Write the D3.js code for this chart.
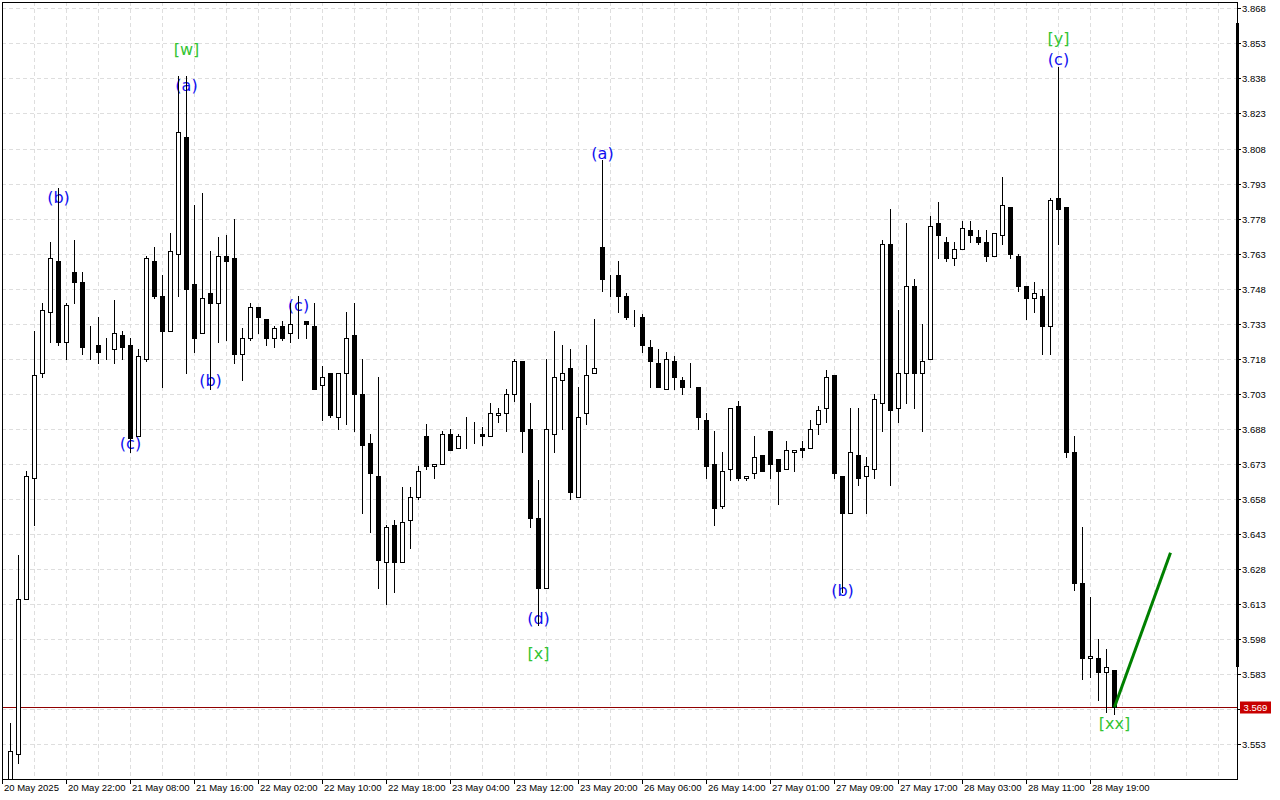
<!DOCTYPE html>
<html>
<head>
<meta charset="utf-8">
<script src="https://cdnjs.cloudflare.com/ajax/libs/d3/7.8.5/d3.min.js"></script>
<style>
  body { margin: 0; background: #fff; }
  svg { display: block; }
</style>
</head>
<body>
<svg id="chart" width="1280" height="800"></svg>
<script>
// hourly bars, first visible bar has index 1
const firstBar = 1;
const opens = [3.536,3.549,3.615,3.667,3.712,3.738,3.760,3.725,3.755,3.751,3.723,3.724,3.721,3.722,3.728,3.724,3.685,3.718,3.760,3.745,
  3.730,3.763,3.813,3.750,3.729,3.746,3.742,3.762,3.761,3.720,3.727,3.740,3.735,3.727,3.732,3.729,3.734,3.734,3.732,3.707,
  3.712,3.693,3.712,3.728,3.703,3.682,3.668,3.631,3.647,3.631,3.649,3.659,3.685,3.672,3.673,3.686,3.680,3.686,3.685,3.686,
  3.685,3.694,3.695,3.703,3.717,3.688,3.650,3.620,3.686,3.709,3.714,3.659,3.695,3.712,3.766,3.753,3.754,3.745,3.735,3.736,
  3.723,3.716,3.705,3.717,3.709,3.707,3.706,3.692,3.673,3.655,3.671,3.698,3.667,3.669,3.677,3.687,3.675,3.671,3.678,3.680,
  3.680,3.690,3.697,3.711,3.668,3.652,3.677,3.668,3.671,3.699,3.767,3.697,3.712,3.749,3.712,3.718,3.776,3.768,3.761,3.765,
  3.773,3.770,3.768,3.762,3.771,3.783,3.762,3.749,3.744,3.745,3.732,3.787,3.783,3.678,3.622,3.590,3.590,3.584,3.585];
const highs = [3.562,3.634,3.670,3.730,3.742,3.768,3.791,3.742,3.769,3.755,3.732,3.736,3.727,3.743,3.730,3.727,3.722,3.762,3.766,3.754,
  3.772,3.839,3.839,3.784,3.789,3.764,3.770,3.771,3.778,3.731,3.742,3.740,3.735,3.732,3.734,3.742,3.745,3.734,3.742,3.715,
  3.712,3.712,3.738,3.742,3.718,3.686,3.710,3.647,3.649,3.663,3.663,3.672,3.690,3.673,3.687,3.688,3.686,3.693,3.691,3.689,
  3.699,3.697,3.705,3.718,3.717,3.699,3.666,3.718,3.730,3.724,3.722,3.706,3.724,3.735,3.803,3.754,3.760,3.746,3.739,3.737,
  3.726,3.722,3.721,3.719,3.710,3.716,3.706,3.695,3.687,3.678,3.697,3.700,3.668,3.685,3.677,3.687,3.675,3.683,3.679,3.683,
  3.692,3.698,3.713,3.711,3.668,3.697,3.697,3.676,3.703,3.769,3.782,3.739,3.776,3.752,3.733,3.779,3.785,3.770,3.768,3.777,
  3.777,3.773,3.773,3.772,3.796,3.783,3.763,3.749,3.751,3.748,3.787,3.843,3.783,3.685,3.646,3.616,3.598,3.594,3.585];
const lows = [3.530,3.545,3.615,3.647,3.710,3.725,3.724,3.718,3.742,3.720,3.718,3.716,3.718,3.716,3.718,3.678,3.685,3.717,3.744,3.706,
  3.730,3.745,3.712,3.721,3.729,3.705,3.725,3.726,3.716,3.709,3.726,3.729,3.724,3.723,3.726,3.725,3.727,3.727,3.705,3.692,
  3.693,3.688,3.690,3.687,3.652,3.644,3.620,3.613,3.618,3.631,3.637,3.658,3.671,3.667,3.673,3.679,3.680,3.680,3.682,3.681,
  3.685,3.691,3.687,3.700,3.678,3.646,3.604,3.620,3.678,3.688,3.658,3.659,3.690,3.712,3.747,3.745,3.738,3.735,3.732,3.721,
  3.706,3.706,3.705,3.705,3.703,3.706,3.688,3.667,3.647,3.654,3.666,3.666,3.666,3.667,3.670,3.667,3.656,3.671,3.670,3.676,
  3.680,3.686,3.691,3.667,3.618,3.652,3.664,3.652,3.667,3.687,3.664,3.691,3.699,3.697,3.687,3.718,3.761,3.760,3.758,3.765,
  3.768,3.767,3.760,3.762,3.767,3.761,3.747,3.735,3.738,3.720,3.720,3.767,3.676,3.619,3.581,3.582,3.572,3.567,3.566];
const closes = [3.550,3.615,3.668,3.711,3.739,3.761,3.725,3.741,3.751,3.723,3.723,3.721,3.721,3.729,3.723,3.684,3.719,3.761,3.745,3.730,
  3.764,3.815,3.748,3.727,3.744,3.742,3.762,3.760,3.720,3.727,3.740,3.736,3.727,3.731,3.727,3.733,3.734,3.733,3.705,3.710,
  3.694,3.712,3.727,3.703,3.681,3.669,3.632,3.646,3.631,3.648,3.659,3.670,3.672,3.673,3.686,3.679,3.685,3.686,3.685,3.685,
  3.695,3.695,3.703,3.717,3.687,3.650,3.620,3.688,3.710,3.712,3.661,3.693,3.711,3.714,3.752,3.753,3.745,3.736,3.735,3.724,
  3.717,3.706,3.718,3.710,3.706,3.707,3.693,3.672,3.654,3.670,3.697,3.667,3.668,3.676,3.670,3.673,3.670,3.679,3.679,3.679,
  3.688,3.696,3.710,3.669,3.652,3.678,3.667,3.672,3.701,3.767,3.696,3.712,3.749,3.712,3.717,3.775,3.771,3.761,3.765,3.774,
  3.771,3.768,3.762,3.772,3.784,3.763,3.749,3.744,3.746,3.732,3.786,3.782,3.678,3.622,3.590,3.591,3.584,3.586,3.569];

// axis labels
const priceTicks = [3.553,3.568,3.583,3.598,3.613,3.628,3.643,3.658,3.673,3.688,3.703,3.718,3.733,3.748,3.763,3.778,3.793,3.808,3.823,3.838,3.853,3.868];
const timeLabels = ['20 May 2025','20 May 22:00','21 May 08:00','21 May 16:00','22 May 02:00','22 May 10:00','22 May 18:00','23 May 04:00',
  '23 May 12:00','23 May 20:00','26 May 06:00','26 May 14:00','27 May 01:00','27 May 09:00','27 May 17:00','28 May 03:00','28 May 11:00','28 May 19:00'];
const timeLabelStep = 8;   // bars between time labels
const gridStep = 4;        // bars between vertical grid lines

const lastPrice = 3.569;
const rangeMarker = [3.586, 3.8615];

// wave marks: text, bar, price, degree
const waveText = ['[w]', '(a)', '(b)', '(c)', '(b)', '(c)', '(d)', '[x]', '(a)', '(b)', '[y]', '(c)', '[xx]'];
const waveBar = [23, 23, 7, 16, 26, 37, 67, 67, 75, 105, 132, 132, 139];
const wavePrice = [3.8505, 3.835, 3.787, 3.682, 3.709, 3.741, 3.607, 3.592, 3.806, 3.619, 3.855, 3.846, 3.562];
const waveMajor = [true, false, false, false, false, false, false, true, false, false, true, false, true];

// projected move
const forecastBar = [139, 146];
const forecastPrice = [3.569, 3.635];

const pLeft = 2, pRight = 1237, pTop = 2, pBottom = 779;

const svg = d3.select('#chart');
const x = d3.scaleLinear().domain([0, (pRight - pLeft) / 8]).range([pLeft, pRight]);
const y = d3.scaleLinear().domain([3.538, 3.868]).range([779.4, 8.3]);
const px = v => Math.round(x(v));
const py = v => Math.round(y(v));

const bars = opens.map((o, i) => ({ k: firstBar + i, o, h: highs[i], l: lows[i], c: closes[i] }));

svg.append('defs').append('clipPath').attr('id', 'plot')
  .append('rect').attr('x', pLeft).attr('y', pTop).attr('width', pRight - pLeft).attr('height', pBottom - pTop);

// grid
const grid = svg.append('g').attr('stroke', '#dedede').attr('stroke-dasharray', '4,3').attr('shape-rendering', 'crispEdges');
grid.selectAll('line.v')
  .data(d3.range(gridStep, (pRight - pLeft) / 8, gridStep))
  .join('line')
  .attr('class', 'v')
  .attr('x1', d => px(d) + 0.5).attr('x2', d => px(d) + 0.5)
  .attr('y1', pTop).attr('y2', pBottom);
grid.selectAll('line.h')
  .data(priceTicks)
  .join('line')
  .attr('class', 'h')
  .attr('x1', pLeft).attr('x2', pRight)
  .attr('y1', d => py(d) + 0.5).attr('y2', d => py(d) + 0.5);

// wave labels sit behind the candles
svg.append('g')
  .attr('font-family', 'DejaVu Sans, Verdana, sans-serif')
  .attr('font-size', 16)
  .attr('text-anchor', 'middle')
  .selectAll('text')
  .data(waveText)
  .join('text')
  .attr('x', (d, i) => px(waveBar[i]) + 0.5)
  .attr('y', (d, i) => y(wavePrice[i]))
  .attr('dy', '0.36em')
  .attr('fill', (d, i) => waveMajor[i] ? '#33c433' : '#1010f0')
  .text(d => d);

const plot = svg.append('g').attr('clip-path', 'url(#plot)');

// last price line
plot.append('line')
  .attr('x1', pLeft).attr('x2', pRight)
  .attr('y1', py(lastPrice) + 0.5).attr('y2', py(lastPrice) + 0.5)
  .attr('stroke', '#900000').attr('shape-rendering', 'crispEdges');

// candles
const candle = plot.append('g').attr('shape-rendering', 'crispEdges')
  .selectAll('g')
  .data(bars)
  .join('g');

candle.append('line')
  .attr('x1', d => px(d.k) + 0.5).attr('x2', d => px(d.k) + 0.5)
  .attr('y1', d => py(d.h)).attr('y2', d => py(d.l) + 1)
  .attr('stroke', '#000');

candle.append('rect')
  .attr('x', d => px(d.k) - 1.5)
  .attr('y', d => py(Math.max(d.o, d.c)) + 0.5)
  .attr('width', 4)
  .attr('height', d => Math.max(0, py(Math.min(d.o, d.c)) - py(Math.max(d.o, d.c))))
  .attr('fill', d => d.c >= d.o ? '#fff' : '#000')
  .attr('stroke', '#000');

// projected wave
plot.append('line')
  .attr('x1', x(forecastBar[0]) + 0.5).attr('y1', y(forecastPrice[0]))
  .attr('x2', x(forecastBar[1]) + 0.5).attr('y2', y(forecastPrice[1]))
  .attr('stroke', '#008000').attr('stroke-width', 3);

// frame
svg.append('rect')
  .attr('x', pLeft + 0.5).attr('y', pTop + 0.5)
  .attr('width', pRight - pLeft).attr('height', pBottom - pTop)
  .attr('fill', 'none').attr('stroke', '#000').attr('shape-rendering', 'crispEdges');

svg.append('rect')
  .attr('x', pRight - 1).attr('y', py(rangeMarker[1]))
  .attr('width', 3).attr('height', py(rangeMarker[0]) - py(rangeMarker[1]))
  .attr('fill', '#000');

// price axis
const yAxis = svg.append('g').attr('font-family', 'Liberation Sans, Arial, sans-serif').attr('font-size', 9.5);
yAxis.selectAll('line')
  .data(priceTicks)
  .join('line')
  .attr('x1', pRight).attr('x2', pRight + 4)
  .attr('y1', d => py(d) + 0.5).attr('y2', d => py(d) + 0.5)
  .attr('stroke', '#000').attr('shape-rendering', 'crispEdges');
yAxis.selectAll('text')
  .data(priceTicks)
  .join('text')
  .attr('x', pRight + 5)
  .attr('y', d => py(d) + 0.5)
  .attr('dy', '0.35em')
  .text(d => d.toFixed(3));

// last price box
const boxY = py(lastPrice) + 0.5;
svg.append('rect')
  .attr('x', pRight + 3).attr('y', boxY - 6)
  .attr('width', 31).attr('height', 12)
  .attr('fill', '#c80000');
svg.append('text')
  .attr('x', pRight + 18.5).attr('y', boxY)
  .attr('dy', '0.35em')
  .attr('text-anchor', 'middle')
  .attr('font-family', 'Liberation Sans, Arial, sans-serif').attr('font-size', 9.5)
  .attr('fill', '#fff')
  .text(lastPrice.toFixed(3));

// time axis
const xAxis = svg.append('g').attr('font-family', 'Liberation Sans, Arial, sans-serif').attr('font-size', 9.5);
xAxis.selectAll('line')
  .data(timeLabels)
  .join('line')
  .attr('x1', (d, i) => px(i * timeLabelStep) + 0.5).attr('x2', (d, i) => px(i * timeLabelStep) + 0.5)
  .attr('y1', pBottom).attr('y2', pBottom + 5)
  .attr('stroke', '#000').attr('shape-rendering', 'crispEdges');
xAxis.selectAll('text')
  .data(timeLabels)
  .join('text')
  .attr('x', (d, i) => px(i * timeLabelStep) + 2)
  .attr('y', pBottom + 12)
  .text(d => d);
</script>
</body>
</html>
